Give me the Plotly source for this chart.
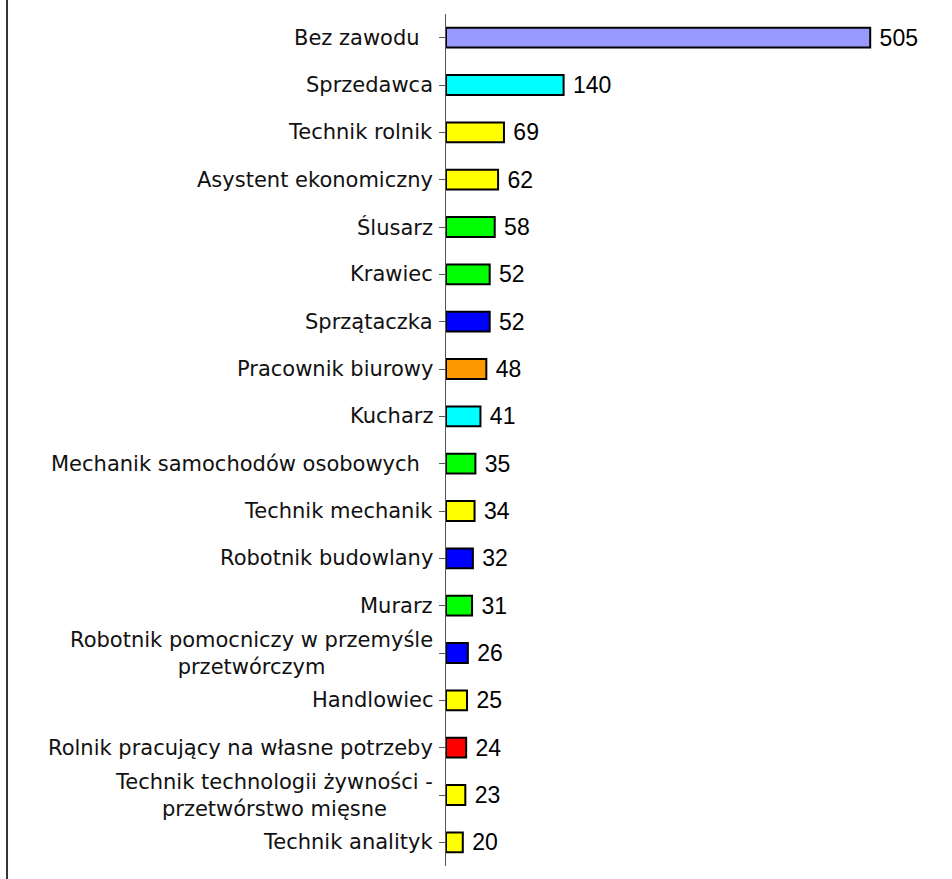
import plotly.graph_objects as go

# Data (top to bottom)
categories = [
    "Bez zawodu ",
    "Sprzedawca",
    "Technik rolnik",
    "Asystent ekonomiczny",
    "Ślusarz",
    "Krawiec",
    "Sprzątaczka",
    "Pracownik biurowy",
    "Kucharz",
    "Mechanik samochodów osobowych ",
    "Technik mechanik",
    "Robotnik budowlany",
    "Murarz",
    "Robotnik pomocniczy w przemyśle<br>przetwórczym",
    "Handlowiec",
    "Rolnik pracujący na własne potrzeby",
    "Technik technologii żywności -<br>przetwórstwo mięsne",
    "Technik analityk",
]
values = [505, 140, 69, 62, 58, 52, 52, 48, 41, 35, 34, 32, 31, 26, 25, 24, 23, 20]
bar_colors = [
    "#9999FF", "#00FFFF", "#FFFF00", "#FFFF00", "#00FF00", "#00FF00",
    "#0000FF", "#FF9900", "#00FFFF", "#00FF00", "#FFFF00", "#0000FF",
    "#00FF00", "#0000FF", "#FFFF00", "#FF0000", "#FFFF00", "#FFFF00",
]

ids = list(range(len(categories)))

fig = go.Figure()

fig.add_trace(go.Bar(
    x=values,
    y=ids,
    orientation="h",
    marker=dict(color=bar_colors, line=dict(color="black", width=2)),
    text=["\u00a0" + str(v) for v in values],
    textposition="outside",
    constraintext="none",
    textfont=dict(family="Liberation Sans, Arial", size=23, color="black"),
    cliponaxis=False,
    hoverinfo="skip",
))

# Category labels as annotations so two-line labels stay centred
for i, cat in enumerate(categories):
    shift = -11
    if cat.endswith(" "):
        shift -= 13  # trailing space in the original label
    fig.add_annotation(
        x=0, xref="paper", y=i, yref="y",
        text=cat.rstrip(), showarrow=False,
        xanchor="right", align="center", xshift=shift,
        font=dict(family="DejaVu Sans, Verdana", size=21, color="#111111"),
    )

# Left frame line of the chart area
fig.add_shape(type="line", xref="paper", yref="paper",
              x0=-0.871, x1=-0.871, y0=-0.1, y1=1.1,
              line=dict(color="#333333", width=2))

fig.update_layout(
    width=952, height=879,
    margin=dict(l=446, r=2, t=14, b=13),
    paper_bgcolor="white",
    plot_bgcolor="white",
    showlegend=False,
    bargap=0.58,
    xaxis=dict(range=[0, 600], visible=False),
    yaxis=dict(
        range=[len(categories) - 0.5, -0.5],
        tickmode="array", tickvals=ids, ticktext=[""] * len(ids),
        tickson="boundaries", ticks="outside", ticklen=6,
        tickcolor="#555555", showline=True, linecolor="#555555",
        linewidth=1, showgrid=False, zeroline=False,
    ),
)

# drop the default page margin so the figure sits at the window's corner
fig.write_html("out.html", config={"displayModeBar": False},
               post_script="document.body.style.margin='0';")
